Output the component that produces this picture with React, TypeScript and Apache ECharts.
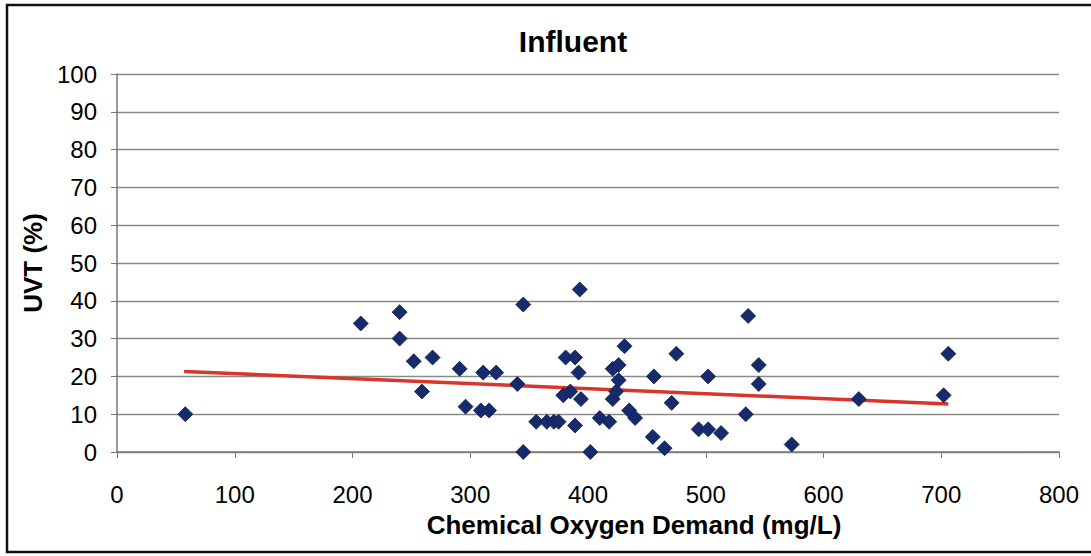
import React, { useEffect, useRef } from "react";
import * as echarts from "echarts";

const codValues = [
  58, 207, 240, 240, 252, 268, 259, 291, 296, 311, 322, 309, 316, 340, 345, 345,
  356, 365, 371, 375, 389, 381, 389, 392, 379, 385, 394, 393, 402, 410, 418, 421,
  421, 426, 426, 424, 431, 435, 440, 456, 455, 465, 471, 475, 494, 502, 502, 513,
  534, 536, 545, 545, 573, 630, 702, 706,
];
const uvtValues = [
  10, 34, 37, 30, 24, 25, 16, 22, 12, 21, 21, 11, 11, 18, 39, 0,
  8, 8, 8, 8, 7, 25, 25, 21, 15, 16, 14, 43, 0, 9, 8, 14,
  22, 23, 19, 16, 28, 11, 9, 20, 4, 1, 13, 26, 6, 6, 20, 5,
  10, 36, 23, 18, 2, 14, 15, 26,
];
const trendX = [57, 706];
const trendY = [21.3, 12.7];

const xTicks = [0, 100, 200, 300, 400, 500, 600, 700, 800];
const yTicks = [0, 10, 20, 30, 40, 50, 60, 70, 80, 90, 100];

export default function App() {
  const ref = useRef<HTMLDivElement>(null);
  useEffect(() => {
    if (!ref.current) return;
    const chart = echarts.init(ref.current, null, { renderer: "svg" });
    const font = "Liberation Sans, Arial, sans-serif";
    chart.setOption({
      animation: false,
      backgroundColor: "#ffffff",
      title: {
        text: "Influent",
        left: 568,
        top: 21,
        textAlign: "center",
        textStyle: { fontFamily: font, fontSize: 30, fontWeight: "bold", color: "#000" },
      },
      grid: { left: 117, right: 32, top: 74, bottom: 104 },
      xAxis: {
        type: "value",
        min: xTicks[0],
        max: xTicks[xTicks.length - 1],
        interval: 100,
        axisLine: { show: true, lineStyle: { color: "#777", width: 1.5 } },
        axisTick: { show: true, length: 6, lineStyle: { color: "#777" } },
        axisLabel: { fontFamily: font, fontSize: 24, color: "#000", margin: 30 },
        splitLine: { show: false },
      },
      yAxis: {
        type: "value",
        min: yTicks[0],
        max: yTicks[yTicks.length - 1],
        interval: 10,
        name: "UVT (%)",
        nameLocation: "middle",
        nameGap: 66,
        nameTextStyle: { fontFamily: font, fontSize: 26, fontWeight: "bold", color: "#000" },
        axisLine: { show: true, lineStyle: { color: "#777", width: 1.5 } },
        axisTick: { show: true, length: 6, lineStyle: { color: "#777" } },
        axisLabel: { fontFamily: font, fontSize: 24, color: "#000", margin: 20 },
        splitLine: { show: true, lineStyle: { color: "#8a8a8a", width: 1.3 } },
      },
      graphic: [
        {
          type: "text",
          x: 634,
          y: 525,
          style: {
            text: "Chemical Oxygen Demand (mg/L)",
            fontFamily: font,
            fontSize: 26,
            fontWeight: "bold",
            fill: "#000",
            align: "center",
            verticalAlign: "middle",
          },
          silent: true,
        },
        {
          type: "rect",
          shape: { x: 7, y: 5, width: 1100, height: 547 },
          style: { fill: "none", stroke: "#111", lineWidth: 2.5 },
          silent: true,
          z: 100,
        },
      ],
      series: [
        {
          type: "line",
          data: trendX.map((x, i) => [x, trendY[i]]),
          symbol: "none",
          lineStyle: { color: "#d9352b", width: 3.5 },
          z: 3,
        },
        {
          type: "scatter",
          data: codValues.map((x, i) => [x, uvtValues[i]]),
          symbol: "diamond",
          symbolSize: 15,
          itemStyle: { color: "#162a6c", opacity: 1, borderColor: "#0f1f55", borderWidth: 0.8 },
          z: 4,
        },
      ],
    });
    return () => chart.dispose();
  }, []);
  return (
    <div
      ref={ref}
      style={{ position: "fixed", left: 0, top: 0, width: 1091, height: 556 }}
    />
  );
}
